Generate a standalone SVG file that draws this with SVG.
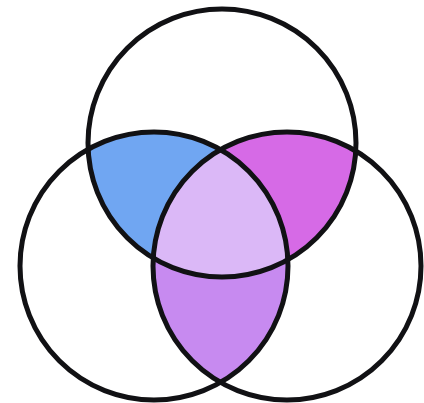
<svg xmlns="http://www.w3.org/2000/svg" xmlns:xlink="http://www.w3.org/1999/xlink" width="424" height="403" viewBox="0 0 424 403">
  <style>
    .ring { fill: none; stroke: #111114; stroke-width: 5; }
  </style>
  <defs>
    <clipPath id="clipTop"><circle cx="222" cy="143" r="134"/></clipPath>
    <clipPath id="clipLeft"><circle cx="154" cy="266" r="134"/></clipPath>
  </defs>
  <rect width="424" height="403" fill="#ffffff"/>
  <g id="regions">
    <g id="blue-region" clip-path="url(#clipTop)">
      <circle cx="154" cy="266" r="134" fill="#70a6f2"/>
    </g>
    <g id="magenta-region" clip-path="url(#clipTop)">
      <circle cx="287" cy="266" r="134" fill="#d66ae6"/>
    </g>
    <g id="purple-region" clip-path="url(#clipLeft)">
      <circle cx="287" cy="266" r="134" fill="#c78af0"/>
    </g>
    <g id="center-region" clip-path="url(#clipTop)">
      <g clip-path="url(#clipLeft)">
        <circle cx="287" cy="266" r="134" fill="#dbb8f7"/>
      </g>
    </g>
  </g>
  <g id="circle-top"><circle class="ring" cx="222" cy="143" r="134"/></g>
  <g id="circle-left"><circle class="ring" cx="154" cy="266" r="134"/></g>
  <g id="circle-right"><circle class="ring" cx="287" cy="266" r="134"/></g>
</svg>
